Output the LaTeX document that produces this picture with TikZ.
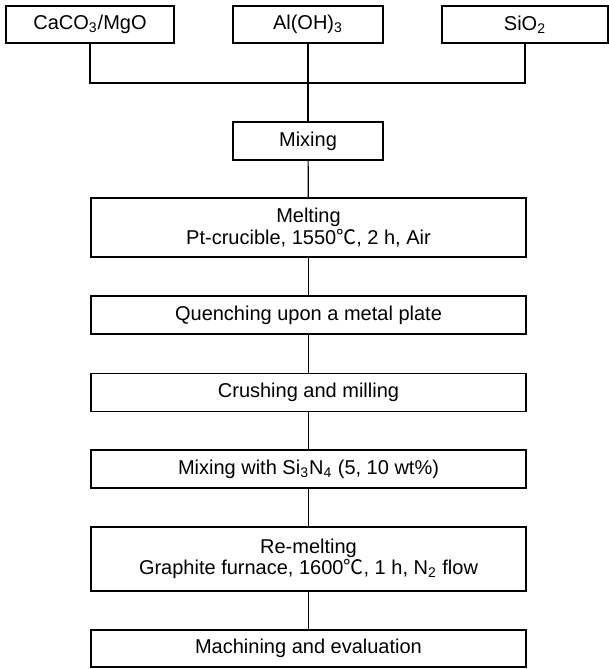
\documentclass[tikz,border=0pt]{standalone}
\usepackage{fontspec}
\setmainfont{Liberation Sans}
\newfontfamily\cjk{Noto Sans CJK SC}
\newcommand{\degC}{{\cjk ℃}}
\tikzset{
  stepbox/.style={draw,line width=.6pt,inner sep=0pt,minimum height=19pt,
    font=\fontsize{10}{8.4}\selectfont,align=center},
  topbox/.style={stepbox,minimum height=18.5pt},
  widebox/.style={stepbox,minimum width=217.5pt},
  link/.style={line width=.6pt}
}
\begin{document}
\begin{tikzpicture}[x=.5pt,y=-.5pt]
  \useasboundingbox (0,0) rectangle (609,669);
  % raw materials
  \node[topbox,minimum width=84pt] (cal) at (90,24.5) {CaCO\textsubscript{3}/MgO};
  \node[topbox,minimum width=75pt] (alh) at (308,24.5) {Al(OH)\textsubscript{3}};
  \node[topbox,minimum width=83pt] (sio) at (525,24.5) {SiO\textsubscript{2}};
  \coordinate (join) at (308,83);
  % process steps
  \node[stepbox,minimum width=75pt] (mix) at (308,141) {Mixing};
  \node[widebox,minimum height=29.5pt] (melt) at (308.5,227.5)
    {Melting\\Pt-crucible, 1550\degC, 2 h, Air};
  \node[widebox] (quench) at (308.5,315) {Quenching upon a metal plate};
  \node[widebox] (crush) at (308.5,392.5) {Crushing and milling};
  \node[widebox] (mixsi) at (308.5,469) {Mixing with Si\textsubscript{3}N\textsubscript{4} (5, 10 wt\%)};
  \node[widebox,minimum height=32pt] (remelt) at (308.5,559)
    {Re-melting\\Graphite furnace, 1600\degC, 1 h, N\textsubscript{2} flow};
  \node[widebox,minimum height=18.5pt] (mach) at (308.5,648.5) {Machining and evaluation};
  % connectors
  \draw[link] (cal.south) |- (join) -| (sio.south);
  \draw[link] (alh) -- (mix);
  \draw[link] (mix) -- (melt);
  \draw[link] (melt) -- (quench);
  \draw[link] (quench) -- (crush);
  \draw[link] (crush) -- (mixsi);
  \draw[link] (mixsi) -- (remelt);
  \draw[link] (remelt) -- (mach);
\end{tikzpicture}
\end{document}
